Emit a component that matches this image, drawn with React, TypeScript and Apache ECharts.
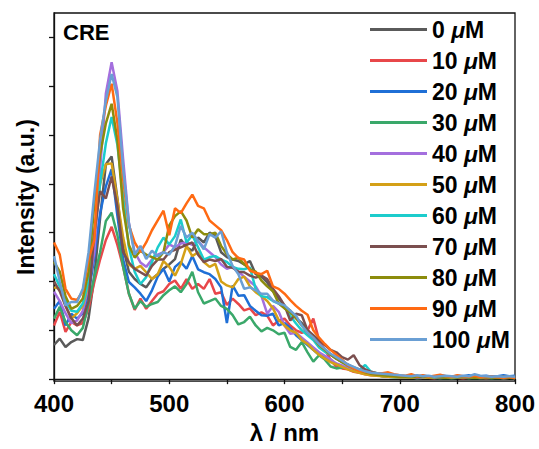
import React, { useEffect, useRef } from "react";
import * as echarts from "echarts";

// wavelength grid (nm), 5 nm sampling 400–800
const wavelengths: number[] = [];
for (let w = 400; w <= 800; w += 5) wavelengths.push(w);

const seriesNames = ["0 μM", "10 μM", "20 μM", "30 μM", "40 μM", "50 μM", "60 μM", "70 μM", "80 μM", "90 μM", "100 μM"];
const seriesColors = ["#5a5a5a", "#e8474a", "#1f6fd6", "#3aa86a", "#a46fde", "#d4a017", "#1ccccc", "#7b4f4f", "#8c8c0c", "#ff6a13", "#6a9fd4"];

const yTickValues = [0, 1, 2, 3, 4, 5, 6, 7];
const xTickLabels = [400, 500, 600, 700, 800];

// intensity (a.u.) at 400..700 nm (5 nm steps) followed by 705..800 nm
const s0 = [0.70, 0.83, 0.66, 0.76, 0.82, 0.80, 1.25, 2.1, 3.3, 4.4, 4.56, 3.7, 2.7, 2.2, 2.05, 1.95, 1.88, 2.05, 2.15, 2.26, 2.35, 2.46, 2.86, 2.7, 2.63, 2.9, 2.8, 3.0, 2.93, 2.6, 2.5, 2.45, 2.42, 2.35, 2.42, 2.15, 2.1, 1.98, 1.8, 1.65, 1.5, 1.4, 1.25, 1.15, 1.0, 0.85, 0.75, 0.6, 0.5, 0.42, 0.35, 0.3, 0.24, 0.2, 0.16, 0.12, 0.1, 0.09, 0.07, 0.06, 0.05,
  0.05, 0.04, 0.05, 0.03, 0.04, 0.05, 0.03, 0.04, 0.03, 0.05, 0.04, 0.03, 0.04, 0.05, 0.03, 0.04, 0.03, 0.04, 0.05, 0.04];
const s10 = [1.1, 1.38, 0.97, 1.17, 1.1, 1.15, 1.45, 1.99, 2.45, 2.85, 3.12, 2.75, 2.3, 1.75, 1.42, 1.65, 1.44, 1.6, 1.75, 1.8, 1.95, 2.02, 1.85, 2.05, 1.85, 1.95, 1.85, 2.05, 1.75, 1.78, 1.52, 1.65, 1.54, 1.41, 1.45, 1.31, 1.37, 1.3, 1.1, 1.2, 1.24, 1.1, 1.0, 0.95, 1.0, 1.24, 0.8, 0.6, 0.4, 0.25, 0.22, 0.2, 0.15, 0.13, 0.1, 0.08, 0.08, 0.06, 0.05, 0.05, 0.04,
  0.04, 0.03, 0.05, 0.04, 0.03, 0.02, 0.04, 0.03, 0.04, 0.03, 0.02, 0.03, 0.04, 0.03, 0.02, 0.03, 0.04, 0.02, 0.03, 0.03];
const s20 = [1.44, 1.6, 1.1, 1.34, 1.24, 1.35, 1.75, 2.5, 3.4, 3.95, 4.3, 3.35, 2.45, 1.99, 1.88, 1.75, 1.6, 1.82, 2.1, 2.26, 2.0, 2.3, 2.4, 2.26, 2.52, 2.25, 2.19, 2.15, 2.05, 1.88, 1.15, 1.92, 1.71, 1.72, 1.5, 1.4, 1.31, 1.3, 1.34, 1.1, 1.15, 1.05, 0.9, 0.8, 0.7, 0.6, 0.5, 0.45, 0.4, 0.3, 0.25, 0.22, 0.18, 0.14, 0.12, 0.1, 0.09, 0.08, 0.07, 0.07, 0.06,
  0.06, 0.08, 0.05, 0.07, 0.06, 0.05, 0.08, 0.06, 0.05, 0.07, 0.06, 0.08, 0.05, 0.06, 0.07, 0.05, 0.06, 0.08, 0.06, 0.07];
const s30 = [1.24, 1.48, 1.17, 1.0, 0.9, 1.05, 1.55, 2.1, 2.6, 3.24, 3.41, 2.95, 2.3, 1.75, 1.44, 1.6, 1.48, 1.54, 1.58, 1.72, 1.82, 1.9, 1.78, 1.95, 2.2, 1.78, 1.55, 1.6, 1.65, 1.5, 1.44, 1.31, 1.12, 1.17, 1.28, 1.1, 0.98, 1.05, 1.0, 0.92, 0.95, 0.66, 0.6, 0.76, 0.55, 0.36, 0.49, 0.4, 0.26, 0.22, 0.24, 0.26, 0.18, 0.15, 0.12, 0.09, 0.08, 0.06, 0.05, 0.04, 0.04,
  0.03, 0.04, 0.02, 0.03, 0.04, 0.03, 0.02, 0.03, 0.02, 0.03, 0.04, 0.02, 0.03, 0.02, 0.03, 0.02, 0.03, 0.02, 0.03, 0.02];
const s40 = [1.79, 1.6, 1.35, 1.15, 1.2, 1.4, 1.9, 2.6, 4.3, 5.85, 6.49, 5.9, 4.5, 3.2, 2.6, 2.39, 2.3, 2.45, 2.55, 2.6, 2.76, 2.7, 2.78, 2.8, 2.75, 2.83, 2.7, 2.6, 2.5, 2.35, 2.26, 2.3, 2.2, 2.1, 2.0, 1.9, 1.7, 1.34, 1.5, 1.38, 1.1, 0.93, 0.95, 0.85, 0.75, 0.65, 0.55, 0.48, 0.4, 0.32, 0.28, 0.22, 0.18, 0.14, 0.12, 0.1, 0.08, 0.07, 0.06, 0.05, 0.05,
  0.04, 0.05, 0.03, 0.04, 0.05, 0.04, 0.03, 0.05, 0.04, 0.03, 0.04, 0.05, 0.03, 0.04, 0.03, 0.05, 0.04, 0.03, 0.04, 0.03];
const s50 = [1.88, 1.85, 1.51, 1.24, 1.35, 1.51, 1.95, 3.0, 4.0, 4.4, 4.42, 3.68, 2.9, 2.35, 2.26, 2.32, 2.19, 2.05, 2.15, 2.42, 2.3, 2.12, 2.36, 2.73, 2.52, 2.6, 2.4, 2.3, 2.36, 2.0, 1.92, 1.88, 2.05, 2.1, 1.9, 1.78, 1.7, 1.6, 1.45, 1.21, 1.1, 1.0, 0.95, 0.8, 0.72, 0.6, 0.5, 0.42, 0.35, 0.3, 0.25, 0.2, 0.16, 0.13, 0.1, 0.08, 0.07, 0.06, 0.05, 0.05, 0.04,
  0.04, 0.03, 0.05, 0.04, 0.03, 0.04, 0.05, 0.03, 0.04, 0.03, 0.04, 0.05, 0.03, 0.04, 0.03, 0.04, 0.03, 0.05, 0.04, 0.03];
const s60 = [2.15, 1.9, 1.6, 1.4, 1.38, 1.55, 2.0, 3.0, 4.0, 4.83, 5.37, 4.8, 3.75, 2.7, 2.2, 1.95, 2.09, 2.4, 2.7, 2.9, 2.76, 2.93, 3.27, 2.8, 2.95, 2.7, 2.45, 2.5, 2.52, 2.45, 2.4, 2.3, 2.26, 2.25, 2.29, 1.85, 1.7, 1.68, 1.6, 1.55, 1.51, 1.3, 1.14, 1.0, 0.9, 0.8, 0.65, 0.56, 0.5, 0.43, 0.35, 0.28, 0.22, 0.19, 0.29, 0.15, 0.12, 0.1, 0.08, 0.07, 0.06,
  0.06, 0.05, 0.07, 0.05, 0.06, 0.04, 0.05, 0.06, 0.05, 0.04, 0.06, 0.05, 0.04, 0.05, 0.06, 0.04, 0.05, 0.04, 0.05, 0.04];
const s70 = [2.0, 1.8, 1.5, 1.25, 1.1, 1.24, 1.6, 3.0, 3.85, 3.7, 4.15, 3.54, 2.6, 2.39, 2.26, 2.19, 2.12, 2.32, 2.45, 2.45, 2.6, 2.65, 2.7, 2.75, 2.8, 2.55, 2.4, 2.45, 2.42, 2.46, 2.3, 2.28, 2.2, 2.19, 2.12, 2.08, 2.12, 2.05, 1.85, 1.7, 1.51, 1.2, 1.34, 1.31, 1.0, 0.9, 0.8, 0.7, 0.6, 0.55, 0.45, 0.4, 0.49, 0.29, 0.2, 0.15, 0.12, 0.1, 0.08, 0.07, 0.06,
  0.05, 0.06, 0.04, 0.05, 0.06, 0.05, 0.04, 0.05, 0.06, 0.04, 0.05, 0.04, 0.06, 0.05, 0.04, 0.05, 0.04, 0.05, 0.04, 0.05];
const s80 = [2.4, 2.2, 1.7, 1.44, 1.5, 1.65, 2.2, 3.6, 4.6, 5.24, 5.64, 4.9, 3.5, 2.75, 2.49, 2.63, 2.55, 2.5, 2.45, 2.6, 3.15, 3.34, 3.44, 3.25, 2.9, 3.07, 2.97, 2.97, 3.0, 2.73, 2.56, 2.45, 2.49, 2.35, 2.25, 2.2, 2.02, 1.9, 1.8, 1.55, 1.45, 1.37, 1.25, 1.1, 0.95, 0.85, 0.7, 0.6, 0.5, 0.42, 0.35, 0.28, 0.22, 0.18, 0.14, 0.11, 0.09, 0.08, 0.07, 0.06, 0.05,
  0.05, 0.04, 0.05, 0.06, 0.04, 0.05, 0.04, 0.03, 0.05, 0.04, 0.05, 0.04, 0.03, 0.04, 0.05, 0.04, 0.03, 0.04, 0.03, 0.04];
const s90 = [2.8, 2.55, 1.85, 1.65, 1.62, 1.8, 2.45, 2.85, 5.0, 5.6, 6.05, 5.25, 4.1, 3.15, 2.8, 2.6, 2.8, 3.05, 3.25, 3.45, 2.95, 3.5, 3.4, 3.6, 3.78, 3.55, 3.5, 3.25, 3.15, 3.05, 2.85, 2.6, 2.48, 2.45, 2.22, 2.18, 2.15, 2.22, 1.9, 1.85, 1.75, 1.62, 1.5, 1.4, 1.32, 1.0, 0.85, 0.72, 0.6, 0.5, 0.4, 0.28, 0.22, 0.17, 0.15, 0.13, 0.12, 0.12, 0.14, 0.1, 0.08,
  0.07, 0.1, 0.06, 0.08, 0.05, 0.07, 0.09, 0.06, 0.05, 0.08, 0.06, 0.05, 0.07, 0.04, 0.06, 0.05, 0.04, 0.03, 0.05, 0.02];
const s100 = [2.52, 2.0, 1.51, 1.58, 1.58, 1.85, 2.6, 3.8, 4.9, 5.71, 6.25, 5.78, 4.3, 3.2, 2.55, 2.73, 2.46, 2.63, 2.52, 2.6, 2.55, 2.73, 3.14, 2.9, 3.0, 2.83, 2.66, 2.97, 2.9, 3.03, 2.6, 2.32, 2.15, 1.85, 1.88, 1.82, 1.75, 1.75, 1.61, 1.55, 1.51, 1.4, 1.3, 1.1, 0.95, 0.85, 0.72, 0.62, 0.52, 0.45, 0.38, 0.3, 0.25, 0.2, 0.16, 0.13, 0.12, 0.11, 0.1, 0.09, 0.08,
  0.07, 0.06, 0.08, 0.06, 0.07, 0.05, 0.06, 0.07, 0.06, 0.05, 0.07, 0.06, 0.1, 0.07, 0.06, 0.05, 0.06, 0.05, 0.06, 0.05];

const seriesValues = [s0, s10, s20, s30, s40, s50, s60, s70, s80, s90, s100];

const FONT = "'Liberation Sans', Arial, sans-serif";

export default function App() {
  const ref = useRef<HTMLDivElement>(null);
  useEffect(() => {
    if (!ref.current) return;
    const chart = echarts.init(ref.current, undefined, { renderer: "svg" });
    const option: any = {
      animation: false,
      backgroundColor: "#ffffff",
      grid: { left: 54, right: 24, top: 13, bottom: 66, show: true, borderColor: "#111", borderWidth: 1.3, backgroundColor: "transparent" },
      xAxis: {
        type: "value",
        min: 400,
        max: 800,
        interval: 100,
        name: "λ / nm",
        nameLocation: "middle",
        nameGap: 37,
        nameTextStyle: { fontFamily: FONT, fontWeight: "bold", fontSize: 24, color: "#000" },
        axisLine: { show: true, lineStyle: { color: "#111", width: 1.3 } },
        axisTick: { show: true, length: 5, lineStyle: { color: "#111", width: 1.3 } },
        minorTick: { show: true, splitNumber: 2, length: 5, lineStyle: { color: "#111", width: 1.3 } },
        splitLine: { show: false },
        axisLabel: {
          margin: 10,
          fontFamily: FONT, fontWeight: "bold", fontSize: 24, color: "#000",
          customValues: xTickLabels,
          formatter: (v: number) => String(v),
        },
      },
      yAxis: {
        type: "value",
        min: -0.04,
        max: 7.5,
        name: "Intensity (a.u.)",
        nameLocation: "middle",
        nameGap: 17,
        nameRotate: 90,
        nameTextStyle: { fontFamily: FONT, fontWeight: "bold", fontSize: 23, color: "#000" },
        axisLine: { show: true, lineStyle: { color: "#111", width: 1.3 } },
        axisTick: { show: true, length: 5, customValues: yTickValues, lineStyle: { color: "#111", width: 1.3 } },
        axisLabel: { show: false },
        splitLine: { show: false },
      },
      legend: {
        orient: "vertical",
        left: 370,
        top: 18,
        padding: 0,
        itemWidth: 57,
        itemHeight: 3,
        itemGap: 8,
        icon: "rect",
        textStyle: {
          fontFamily: FONT, fontWeight: "bold", fontSize: 23, color: "#000",
          rich: {
            b: { fontFamily: FONT, fontWeight: "bold", fontSize: 23, color: "#000", lineHeight: 23 },
            i: { fontFamily: FONT, fontWeight: "bold", fontStyle: "italic", fontSize: 23, color: "#000", lineHeight: 23 },
          },
        },
        formatter: (name: string) => {
          const num = name.replace(" μM", "");
          return `{b|${num} }{i|μ}{b|M}`;
        },
        data: seriesNames,
      },
      graphic: [
        {
          type: "text",
          left: 63,
          top: 21,
          style: { text: "CRE", fontFamily: FONT, fontWeight: "bold", fontSize: 22, fill: "#000" },
        },
      ],
      series: seriesNames.map((name, i) => ({
        name,
        type: "line",
        symbol: "none",
        showSymbol: false,
        color: seriesColors[i],
        lineStyle: { color: seriesColors[i], width: 2.5 },
        data: wavelengths.map((w, k) => [w, seriesValues[i][k]]),
      })),
    };
    chart.setOption(option);
    return () => chart.dispose();
  }, []);
  return <div ref={ref} style={{ position: "fixed", left: 0, top: 0, width: 539, height: 449 }} />;
}
